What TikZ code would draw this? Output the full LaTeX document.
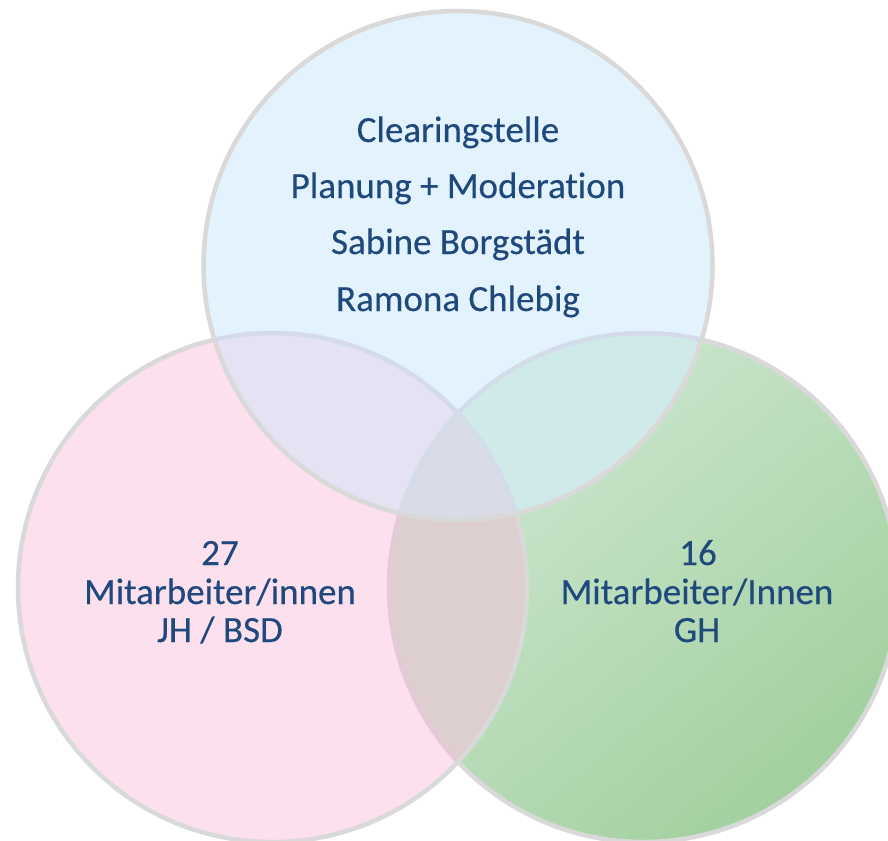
\documentclass[tikz,border=0pt]{standalone}
\usepackage{fontspec}
\setmainfont{Carlito}[Ligatures=NoCommon, FakeBold=0.3]
\definecolor{topfill}{HTML}{E3F3FD}
\definecolor{leftfill}{HTML}{FDE0EE}
\definecolor{greenL}{HTML}{D0E8D3}
\definecolor{greenD}{HTML}{A2D09F}
\definecolor{lavfill}{HTML}{E5E3F3}
\definecolor{cyanfill}{HTML}{D0E9E9}
\definecolor{botfill}{HTML}{DDCFCF}
\definecolor{centfill}{HTML}{D9DBE6}
\definecolor{rim}{HTML}{D9D9D9}
\definecolor{rimpink}{HTML}{E4CAD8}
\definecolor{rimblue}{HTML}{D3DCE8}
\definecolor{txtblue}{HTML}{1F497D}
\tikzset{
  rimline/.style={draw=rim, line width=4.5pt},
  faintpink/.style={draw=rimpink, line width=4.5pt},
  faintblue/.style={draw=rimblue, line width=4.5pt},
  lbl/.style={anchor=base, text=txtblue, inner sep=0pt, font=\fontsize{37}{44}\selectfont}
}
\begin{document}
\begin{tikzpicture}[x=1pt,y=-1pt]
\useasboundingbox (0,0) rectangle (888,840);
\def\R{254.5pt}
\coordinate (T) at (458,265.5);
\coordinate (L) at (272.5,587.5);
\coordinate (G) at (643.5,587.5);
% right (green) circle
\shade[top color=greenL, bottom color=greenD, shading angle=40] (G) circle[radius=\R];
\draw[rimline] (G) circle[radius=\R];
% left (pink) circle
\fill[leftfill] (L) circle[radius=\R];
\begin{scope}
  \clip (L) circle[radius=\R];
  \fill[botfill] (G) circle[radius=\R];
  \draw[faintpink] (G) circle[radius=\R];
\end{scope}
\draw[rimline] (L) circle[radius=\R];
% top (blue) circle
\fill[topfill] (T) circle[radius=\R];
\begin{scope}
  \clip (T) circle[radius=\R];
  \fill[lavfill] (L) circle[radius=\R];
  \fill[cyanfill] (G) circle[radius=\R];
  \begin{scope}
    \clip (L) circle[radius=\R];
    \fill[centfill] (G) circle[radius=\R];
  \end{scope}
  \draw[faintblue] (L) circle[radius=\R];
  \draw[faintblue] (G) circle[radius=\R];
\end{scope}
\draw[rimline] (T) circle[radius=\R];
% texts
\node[lbl] (t1) at (458,142) {Clearingstelle};
\node[lbl] (t2) at (458,198) {Planung + Moderation};
\node[lbl] (t3) at (458,254) {Sabine Borgstädt};
\node[lbl] (t4) at (458,311) {Ramona Chlebig};
\node[lbl] (l1) at (220,565) {27};
\node[lbl] (l2) at (220,604) {Mitarbeiter/innen};
\node[lbl] (l3) at (220,642) {JH / BSD};
\node[lbl] (r1) at (698,565) {16};
\node[lbl] (r2) at (697,604) {Mitarbeiter/Innen};
\node[lbl] (r3) at (697,642) {GH};
\end{tikzpicture}
\end{document}
